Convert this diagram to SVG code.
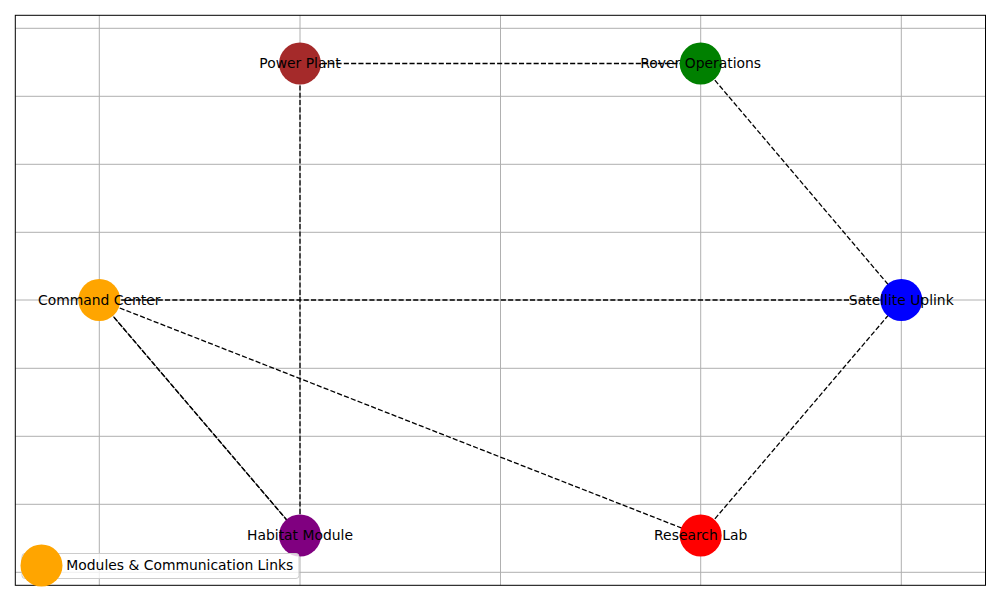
<svg xmlns="http://www.w3.org/2000/svg" width="1000" height="600" viewBox="0 0 1000 600">
<style>
.grid line{stroke:#b0b0b0;stroke-width:1}
.edge{stroke:#000;stroke-width:1.3;stroke-dasharray:5.1,2.2;fill:none}
.lbl{font-family:"DejaVu Sans",sans-serif;font-size:13.9px;fill:#000;text-anchor:middle}
</style>
<rect x="0" y="0" width="1000" height="600" fill="#fff"/>
<g class="grid" id="grid">
<line x1="99.3" y1="15.3" x2="99.3" y2="585.3"/>
<line x1="300" y1="15.3" x2="300" y2="585.3"/>
<line x1="500.5" y1="15.3" x2="500.5" y2="585.3"/>
<line x1="700.7" y1="15.3" x2="700.7" y2="585.3"/>
<line x1="901.3" y1="15.3" x2="901.3" y2="585.3"/>
<line x1="15.3" y1="28.3" x2="985.5" y2="28.3"/>
<line x1="15.3" y1="96.3" x2="985.5" y2="96.3"/>
<line x1="15.3" y1="164.3" x2="985.5" y2="164.3"/>
<line x1="15.3" y1="232.3" x2="985.5" y2="232.3"/>
<line x1="15.3" y1="300" x2="985.5" y2="300"/>
<line x1="15.3" y1="368.3" x2="985.5" y2="368.3"/>
<line x1="15.3" y1="436.3" x2="985.5" y2="436.3"/>
<line x1="15.3" y1="504.3" x2="985.5" y2="504.3"/>
<line x1="15.3" y1="572.3" x2="985.5" y2="572.3"/>
</g>
<g id="connectors">
<line class="edge" x1="300" y1="63.5" x2="700.7" y2="63.5"/>
<line class="edge" x1="300" y1="63.5" x2="300" y2="535.5"/>
<line class="edge" x1="700.7" y1="63.5" x2="901.3" y2="300"/>
<line class="edge" x1="99.3" y1="300" x2="901.3" y2="300"/>
<line class="edge" x1="99.3" y1="300" x2="300" y2="535.5"/>
<line class="edge" x1="300" y1="535.5" x2="99.3" y2="300" style="stroke-dashoffset:3.5"/>
<line class="edge" x1="99.3" y1="300" x2="700.7" y2="535.5"/>
<line class="edge" x1="700.7" y1="535.5" x2="901.3" y2="300"/>
</g>
<g id="node-power-plant"><circle cx="300" cy="63.5" r="21" fill="#a52a2a"/><text class="lbl" x="300" y="68">Power Plant</text></g>
<g id="node-rover-operations"><circle cx="700.7" cy="63.5" r="21" fill="#008000"/><text class="lbl" x="700.7" y="68">Rover Operations</text></g>
<g id="node-satellite-uplink"><circle cx="901.3" cy="300" r="21" fill="#0000ff"/><text class="lbl" x="901.3" y="304.5">Satellite Uplink</text></g>
<g id="node-research-lab"><circle cx="700.7" cy="535.5" r="21" fill="#ff0000"/><text class="lbl" x="700.7" y="540">Research Lab</text></g>
<g id="node-habitat-module"><circle cx="300" cy="535.5" r="21" fill="#800080"/><text class="lbl" x="300" y="540">Habitat Module</text></g>
<g id="node-command-center"><circle cx="99.3" cy="300" r="21" fill="#ffa500"/><text class="lbl" x="99.3" y="304.5">Command Center</text></g>
<rect x="15.3" y="15.3" width="970.2" height="570" fill="none" stroke="#000" stroke-width="1"/>
<g id="legend">
<rect x="22" y="553.5" width="277" height="25" rx="3" fill="#fff" fill-opacity="0.8" stroke="#cccccc" stroke-width="1"/>
<circle cx="41.5" cy="565.5" r="21" fill="#ffa500"/>
<text x="66.3" y="570" style="font-family:'DejaVu Sans',sans-serif;font-size:13.9px;fill:#000">Modules &amp; Communication Links</text>
</g>
</svg>
